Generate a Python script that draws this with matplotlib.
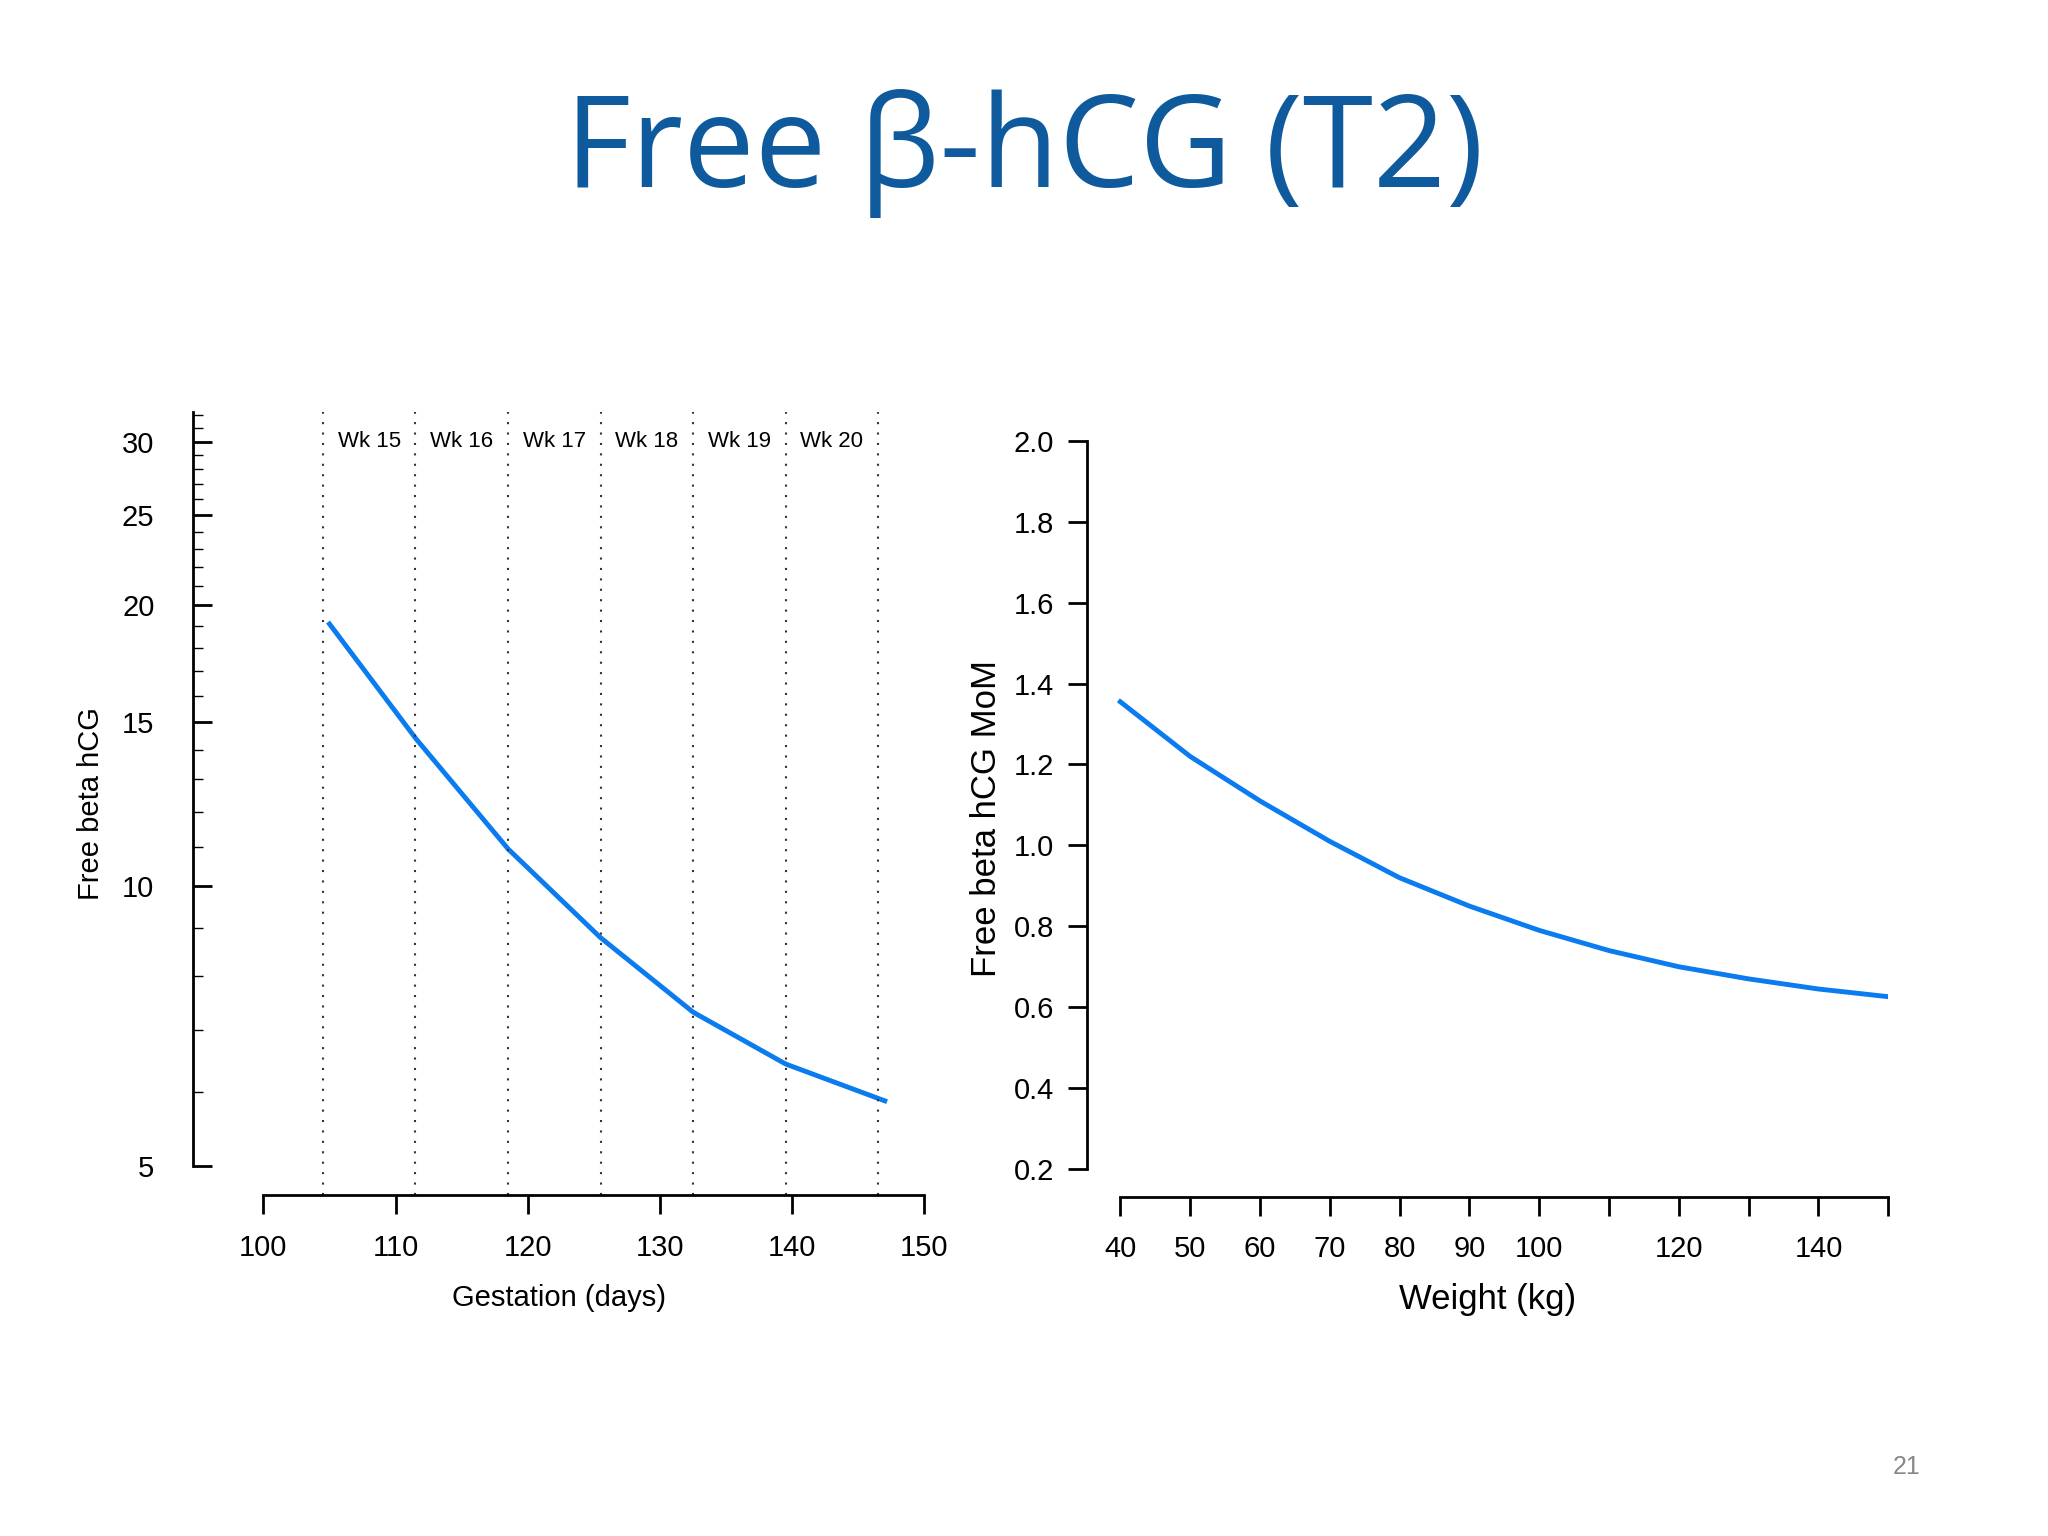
import matplotlib.pyplot as plt
import numpy as np

# left panel: gestation curve
gest_days = [105, 111.5, 118.5, 125.5, 132.5, 139.5, 147]
free_beta = [19.1, 14.4, 10.95, 8.79, 7.31, 6.43, 5.87]
week_bounds = [104.5, 111.5, 118.5, 125.5, 132.5, 139.5, 146.5]
week_labels = ['Wk 15', 'Wk 16', 'Wk 17', 'Wk 18', 'Wk 19', 'Wk 20']

# right panel: weight curve
weight_kg = [40, 50, 60, 70, 80, 90, 100, 110, 120, 130, 140, 150]
mom = [1.355, 1.22, 1.11, 1.01, 0.92, 0.85, 0.79, 0.74, 0.70, 0.67, 0.645, 0.626]

blue = '#0a7cf0'
plt.rcParams['font.family'] = ['Liberation Sans', 'DejaVu Sans']

fig = plt.figure(figsize=(20.48, 15.36), dpi=100)
fig.patch.set_facecolor('white')
fig.text(0.5, 0.90, 'Free β-hCG (T2)', ha='center', va='center',
         fontsize=92, color='#0E5A9C', family=['Open Sans', 'DejaVu Sans'])
fig.text(0.931, 0.045, '21', ha='center', va='center', fontsize=18, color='#888888')

# ---- left
ax1 = fig.add_axes([0.0944, 0.222, 0.357, 0.510])
xs = np.linspace(gest_days[0], gest_days[-1], 200)
ys = np.exp(np.interp(xs, gest_days, np.log(free_beta)))
ax1.plot(xs, ys, color=blue, lw=3.5)
ax1.set_yscale('log')
ax1.set_xlim(94.7, 150)
ax1.set_ylim(4.65, 32.3)
for s in ['top', 'right']:
    ax1.spines[s].set_visible(False)
ax1.spines['left'].set_bounds(5, 32.3)
ax1.spines['bottom'].set_bounds(100, 150)
ax1.spines['left'].set_linewidth(2)
ax1.spines['bottom'].set_linewidth(2)
ax1.set_yticks([5, 10, 15, 20, 25, 30])
ax1.set_yticklabels(['5', '10', '15', '20', '25', '30'])
minor = [v for v in list(range(6, 33)) if v not in (10, 15, 20, 25, 30)]
ax1.set_yticks(minor, minor=True)
ax1.yaxis.set_minor_formatter(plt.NullFormatter())
ax1.tick_params(axis='y', which='major', direction='in', length=14, width=2, labelsize=21, pad=28)
ax1.tick_params(axis='y', which='minor', direction='in', length=7, width=1)
ax1.set_xticks(range(100, 151, 10))
ax1.tick_params(axis='x', direction='out', length=14, width=2, labelsize=21, pad=14)
for b in week_bounds:
    ax1.axvline(b, color='#333333', ls=(0, (1, 4)), lw=1.5)
for i, lab in enumerate(week_labels):
    ax1.text((week_bounds[i] + week_bounds[i + 1]) / 2, 30, lab, ha='center', va='center', fontsize=16)
ax1.set_xlabel('Gestation (days)', fontsize=21, labelpad=16)
ax1.set_ylabel('Free beta hCG', fontsize=21, labelpad=12)

# ---- right
ax2 = fig.add_axes([0.531, 0.221, 0.391, 0.492])
ax2.plot(weight_kg, mom, color=blue, lw=3.5)
ax2.set_xlim(35.3, 150)
ax2.set_ylim(0.132, 2.0)
for s in ['top', 'right']:
    ax2.spines[s].set_visible(False)
ax2.spines['left'].set_bounds(0.2, 2.0)
ax2.spines['bottom'].set_bounds(40, 150)
ax2.spines['left'].set_linewidth(2)
ax2.spines['bottom'].set_linewidth(2)
ax2.set_yticks(np.arange(0.2, 2.01, 0.2))
ax2.set_yticklabels([f'{v:.1f}' for v in np.arange(0.2, 2.01, 0.2)])
ax2.set_xticks(range(40, 151, 10))
ax2.set_xticklabels(['40', '50', '60', '70', '80', '90', '100', '', '120', '', '140', ''])
ax2.tick_params(axis='y', direction='out', length=14, width=2, labelsize=21, pad=10)
ax2.tick_params(axis='x', direction='out', length=14, width=2, labelsize=21, pad=14)
ax2.set_xlabel('Weight (kg)', fontsize=25, labelpad=14)
ax2.set_ylabel('Free beta hCG MoM', fontsize=25, labelpad=8)

fig.savefig('out.png', dpi=100)
